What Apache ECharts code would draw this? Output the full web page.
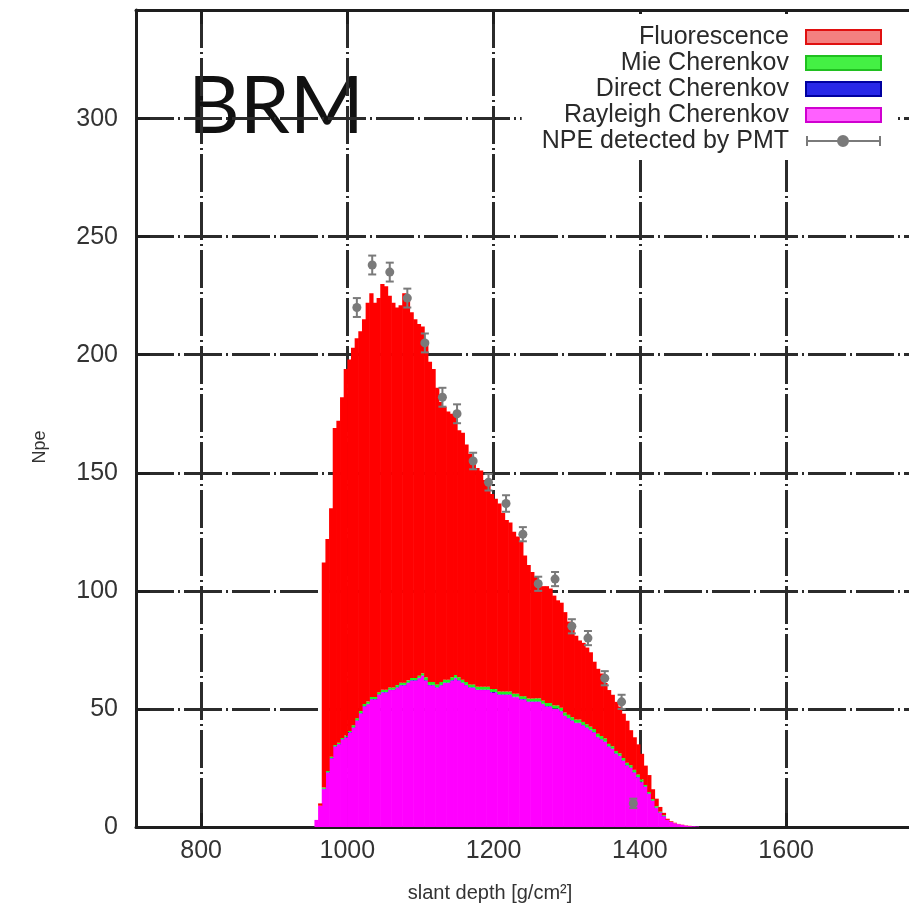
<!DOCTYPE html>
<html>
<head>
<meta charset="utf-8">
<title>BRM – Npe vs slant depth</title>
<script src="https://cdn.jsdelivr.net/npm/echarts@6/dist/echarts.min.js"></script>
<style>
  html, body { margin: 0; padding: 0; background: #fff; }
  #chart { width: 909px; height: 913px; }
</style>
</head>
<body>
<div id="chart"></div>
<script>
// Histogram bin centres along slant depth [g/cm^2], 5 g/cm^2 wide
const depthCenters = [
  957.5, 962.5, 967.5, 972.5, 977.5, 982.5, 987.5, 992.5, 997.5, 1002.5,
  1007.5, 1012.5, 1017.5, 1022.5, 1027.5, 1032.5, 1037.5, 1042.5, 1047.5, 1052.5,
  1057.5, 1062.5, 1067.5, 1072.5, 1077.5, 1082.5, 1087.5, 1092.5, 1097.5, 1102.5,
  1107.5, 1112.5, 1117.5, 1122.5, 1127.5, 1132.5, 1137.5, 1142.5, 1147.5, 1152.5,
  1157.5, 1162.5, 1167.5, 1172.5, 1177.5, 1182.5, 1187.5, 1192.5, 1197.5, 1202.5,
  1207.5, 1212.5, 1217.5, 1222.5, 1227.5, 1232.5, 1237.5, 1242.5, 1247.5, 1252.5,
  1257.5, 1262.5, 1267.5, 1272.5, 1277.5, 1282.5, 1287.5, 1292.5, 1297.5, 1302.5,
  1307.5, 1312.5, 1317.5, 1322.5, 1327.5, 1332.5, 1337.5, 1342.5, 1347.5, 1352.5,
  1357.5, 1362.5, 1367.5, 1372.5, 1377.5, 1382.5, 1387.5, 1392.5, 1397.5, 1402.5,
  1407.5, 1412.5, 1417.5, 1422.5, 1427.5, 1432.5, 1437.5, 1442.5, 1447.5, 1452.5,
  1457.5, 1462.5, 1467.5, 1472.5, 1477.5];
const binWidth = 5;

// Simulated photo-electrons per bin, by light component (stacked bottom to top)
const rayleighCherenkov = [
  3, 9, 16, 23, 29, 34, 35, 37, 38, 40,
  42, 45, 48, 51, 52, 54, 54, 56, 57, 57,
  58, 58, 59, 60, 60, 61, 62, 62, 63, 64,
  62, 60, 60, 59, 60, 61, 61, 62, 63, 62,
  61, 60, 59, 59, 58, 58, 58, 58, 57, 57,
  56, 56, 56, 56, 55, 55, 54, 54, 53, 53,
  53, 53, 52, 51, 51, 50, 50, 49, 47, 46,
  45, 44, 44, 43, 42, 41, 40, 38, 37, 36,
  34, 33, 31, 30, 28, 26, 25, 23, 21, 19,
  17, 14, 11, 8, 6, 4.5, 3, 2.2, 1.6, 1.2,
  0.9, 0.6, 0.4, 0.3, 0.2];
const directCherenkov = [
  0, 0, 0.2, 0.2, 0.2, 0.2, 0.2, 0.2, 0.2, 0.2,
  0.2, 0.2, 0.2, 0.2, 0.2, 0.2, 0.2, 0.2, 0.2, 0.2,
  0.2, 0.2, 0.2, 0.2, 0.2, 0.2, 0.2, 0.2, 0.2, 0.2,
  0.2, 0.2, 0.2, 0.2, 0.2, 0.2, 0.2, 0.2, 0.2, 0.2,
  0.2, 0.2, 0.2, 0.2, 0.2, 0.2, 0.2, 0.2, 0.2, 0.2,
  0.2, 0.2, 0.2, 0.2, 0.2, 0.2, 0.2, 0.2, 0.2, 0.2,
  0.2, 0.2, 0.2, 0.2, 0.2, 0.2, 0.2, 0.2, 0.2, 0.2,
  0.2, 0.2, 0.2, 0.2, 0.2, 0.2, 0.2, 0.2, 0.2, 0.2,
  0.2, 0.2, 0.2, 0.2, 0.2, 0.2, 0.2, 0.2, 0.2, 0.2,
  0.2, 0.2, 0.2, 0.2, 0.2, 0.2, 0, 0, 0, 0,
  0, 0, 0, 0, 0];
const mieCherenkov = [
  0, 0, 0.5, 0.5, 0.5, 0.5, 0.5, 0.5, 0.5, 0.5,
  0.9, 0.9, 0.9, 0.9, 0.9, 0.9, 0.9, 0.9, 0.9, 0.9,
  0.9, 0.9, 0.9, 0.9, 0.9, 0.9, 0.9, 0.9, 0.9, 0.9,
  1.2, 1.2, 1.2, 1.2, 1.2, 1.2, 1.2, 1.2, 1.2, 1.2,
  1.2, 1.2, 1.2, 1.2, 1.2, 1.2, 1.2, 1.2, 1.2, 1.2,
  1.2, 1.2, 1.2, 1.2, 1.2, 1.2, 1.2, 1.2, 1.2, 1.2,
  1.3, 1.3, 1.3, 1.3, 1.3, 1.3, 1.3, 1.3, 1.3, 1.3,
  1.3, 1.3, 1.3, 1.3, 1.3, 1.3, 1.3, 1.3, 1.3, 1.3,
  1.0, 1.0, 1.0, 1.0, 1.0, 1.0, 1.0, 1.0, 1.0, 1.0,
  0.6, 0.6, 0.6, 0.6, 0.3, 0.3, 0, 0, 0, 0,
  0, 0, 0, 0, 0];
const fluorescence = [
  0, 1, 95.3, 98.3, 105.3, 134.3, 136.3, 144.3, 155.3, 157.3,
  159.9, 160.9, 160.9, 162.9, 168.9, 170.9, 166.9, 166.9, 171.9, 170.9,
  165.9, 162.9, 159.9, 159.9, 164.9, 162.9, 154.9, 151.9, 148.9, 146.9,
  142.6, 135.6, 132.6, 125.6, 118.6, 115.6, 113.6, 111.6, 109.6, 104.6,
  104.6, 100.6, 97.6, 94.6, 92.6, 91.6, 87.6, 85.6, 82.6, 80.6,
  79.6, 75.6, 72.6, 71.6, 68.6, 66.6, 65.6, 59.6, 56.6, 53.6,
  51.5, 48.5, 48.5, 49.5, 48.5, 46.5, 44.5, 44.5, 42.5, 39.5,
  38.5, 35.5, 33.5, 33.5, 32.5, 31.5, 28.5, 27.5, 26.5, 23.5,
  22.8, 21.8, 20.8, 19.8, 18.8, 17.8, 14.8, 13.8, 12.8, 10.8,
  8.2, 7.2, 4.2, 3.2, 2, 1, 0.5, 0.3, 0.2, 0.1,
  0.1, 0.1, 0.1, 0, 0];

// Measured NPE from the PMT with statistical errors
const npeDepth = [1013, 1034, 1058, 1082, 1106, 1130, 1150, 1172, 1193, 1217,
  1240, 1261, 1284, 1307, 1329, 1352, 1375, 1391];
const npeValue = [220, 238, 235, 224, 205, 182, 175, 155, 146, 137,
  124, 103, 105, 85, 80, 63, 53, 10];
const npeError = [4, 4, 4, 4, 4, 4, 4, 3.5, 3.5, 3.5,
  3, 3, 3, 3, 3, 3, 3, 2];

// Axis tick values
const xTicks = [800, 1000, 1200, 1400, 1600];
const yTicks = [0, 50, 100, 150, 200, 250, 300];

const FONT = '"Liberation Sans", Arial, sans-serif';

// Build [centre, base, top] triples for each stacked layer
const layers = [
  { name: 'Rayleigh Cherenkov', values: rayleighCherenkov, color: '#ff00ff' },
  { name: 'Direct Cherenkov', values: directCherenkov, color: '#0000ff' },
  { name: 'Mie Cherenkov', values: mieCherenkov, color: '#22ee22' },
  { name: 'Fluorescence', values: fluorescence, color: '#ff0000' }
];
const running = depthCenters.map(() => 0);
const layerData = layers.map(layer => depthCenters.map((c, i) => {
  const base = running[i];
  running[i] = base + layer.values[i];
  return [c, base, running[i]];
}));

function renderBin(params, api) {
  const c = api.value(0), lo = api.value(1), hi = api.value(2);
  if (!(hi > lo)) return null;
  const p0 = api.coord([c - binWidth / 2, hi]);
  const p1 = api.coord([c + binWidth / 2, lo]);
  return {
    type: 'rect',
    shape: { x: p0[0], y: p0[1], width: p1[0] - p0[0] + 0.6, height: p1[1] - p0[1] },
    style: { fill: api.visual('color') }
  };
}

function renderPoint(params, api) {
  const x = api.value(0), y = api.value(1), e = api.value(2);
  const c = api.coord([x, y]);
  const top = api.coord([x, y + e])[1];
  const bot = api.coord([x, y - e])[1];
  const cap = 4;
  const st = { stroke: '#7a7a7a', lineWidth: 2 };
  return {
    type: 'group',
    children: [
      { type: 'line', shape: { x1: c[0], y1: top, x2: c[0], y2: bot }, style: st },
      { type: 'line', shape: { x1: c[0] - cap, y1: top, x2: c[0] + cap, y2: top }, style: st },
      { type: 'line', shape: { x1: c[0] - cap, y1: bot, x2: c[0] + cap, y2: bot }, style: st },
      { type: 'circle', shape: { cx: c[0], cy: c[1], r: 4.5 }, style: { fill: '#7a7a7a' } }
    ]
  };
}

const series = layers.map((layer, k) => ({
  name: layer.name,
  type: 'custom',
  renderItem: renderBin,
  itemStyle: { color: layer.color },
  encode: { x: 0, y: [1, 2] },
  data: layerData[k],
  z: 2,
  silent: true
}));
series.push({
  name: 'NPE detected by PMT',
  type: 'custom',
  renderItem: renderPoint,
  itemStyle: { color: '#7a7a7a' },
  encode: { x: 0, y: 1 },
  data: npeDepth.map((d, i) => [d, npeValue[i], npeError[i]]),
  z: 3,
  silent: true
});

const frame = { color: '#1e1e1e', width: 3 };
const gridLine = { color: '#2b2b2b', width: 3, type: [38, 4, 2, 4] };

const option = {
  backgroundColor: '#fff',
  animation: false,
  grid: { left: 136, top: 10, right: 0, bottom: 86, show: false },
  xAxis: [
    {
      type: 'value', min: 711, max: 1768, position: 'bottom',
      axisLine: { show: true, lineStyle: frame },
      axisTick: { show: true, inside: true, length: 14, customValues: xTicks, lineStyle: frame },
      axisLabel: { customValues: xTicks, margin: 12, color: '#333',
        fontFamily: FONT, fontSize: 25, formatter: v => String(v) },
      splitLine: { show: true, lineStyle: gridLine }
    },
    {
      // top border of the frame, mirrored tics
      type: 'value', min: 711, max: 1768, position: 'top',
      axisLine: { show: true, lineStyle: frame },
      axisTick: { show: true, inside: true, length: 14, customValues: xTicks, lineStyle: frame },
      axisLabel: { show: false },
      splitLine: { show: false }
    }
  ],
  yAxis: {
    type: 'value', min: 0, max: 346,
    axisLine: { show: true, lineStyle: frame },
    axisTick: { show: true, inside: true, length: 14, customValues: yTicks, lineStyle: frame },
    axisLabel: { customValues: yTicks, margin: 18, color: '#333',
      fontFamily: FONT, fontSize: 25 },
    splitLine: { show: true, lineStyle: gridLine }
  },
  legend: {
    orient: 'vertical',
    right: 14, top: 14,
    align: 'right',
    selectedMode: false,
    itemWidth: 75, itemHeight: 14, itemGap: 0,
    backgroundColor: '#fff',
    padding: [10, 13, 6, 20],
    textStyle: { fontFamily: FONT, fontSize: 25, color: '#2a2a2a',
      lineHeight: 26, padding: [0, 12, 0, 0] },
    data: [
      { name: 'Fluorescence', icon: 'rect',
        itemStyle: { color: '#f48080', borderColor: '#e01010', borderWidth: 2 } },
      { name: 'Mie Cherenkov', icon: 'rect',
        itemStyle: { color: '#44f044', borderColor: '#20c020', borderWidth: 2 } },
      { name: 'Direct Cherenkov', icon: 'rect',
        itemStyle: { color: '#2828e8', borderColor: '#0000a0', borderWidth: 2 } },
      { name: 'Rayleigh Cherenkov', icon: 'rect',
        itemStyle: { color: '#ff60ff', borderColor: '#d000d0', borderWidth: 2 } },
      { name: 'NPE detected by PMT',
        icon: 'path://M0,7L75,7M1,2L1,12M74,2L74,12M32,7A5,5,0,1,1,42,7A5,5,0,1,1,32,7Z',
        itemStyle: { color: '#7a7a7a', borderColor: '#7a7a7a', borderWidth: 2 } }
    ]
  },
  graphic: [
    {
      type: 'group', z: 50,
      children: [
        { type: 'rect', shape: { x: 165, y: 33, width: 227, height: 140 },
          style: { fill: '#fff' } },
        { type: 'text', x: 188, y: 107,
          style: { text: 'BRM', font: '400 80px Lato, "Open Sans", sans-serif',
            fill: '#111', verticalAlign: 'middle', align: 'left' } }
      ]
    },
    {
      type: 'text', z: 50, x: 490, y: 893,
      style: { text: 'slant depth [g/cm²]', font: '20px ' + FONT, fill: '#333',
        align: 'center', verticalAlign: 'middle' }
    },
    {
      type: 'text', z: 50, x: 40, y: 447, rotation: Math.PI / 2,
      style: { text: 'Npe', font: '18px ' + FONT, fill: '#333',
        align: 'center', verticalAlign: 'middle' }
    }
  ],
  series: series
};

const chart = echarts.init(document.getElementById('chart'), null, { renderer: 'canvas' });
chart.setOption(option);
</script>
</body>
</html>
